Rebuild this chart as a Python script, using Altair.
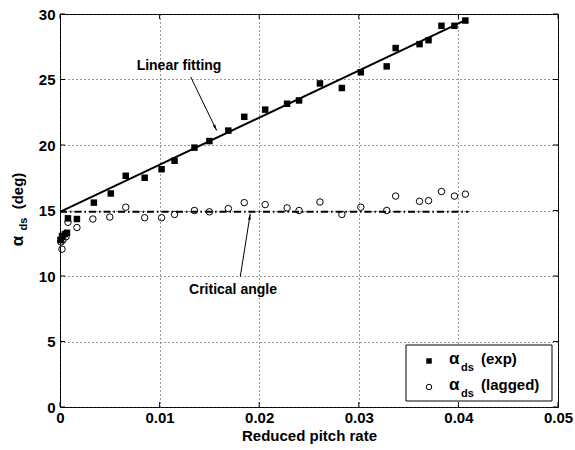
import altair as alt
import pandas as pd

# ---- data ----
exp_x = [0.00005, 0.0002, 0.0005, 0.0007, 0.0008, 0.0017, 0.0034, 0.0051, 0.0066, 0.0085,
         0.0102, 0.0115, 0.0135, 0.0150, 0.0169, 0.0185, 0.0206, 0.0228, 0.0240, 0.0261,
         0.0283, 0.0302, 0.0328, 0.0337, 0.0361, 0.0370, 0.0383, 0.0396, 0.0407]
exp_y = [12.75, 13.05, 13.2, 13.3, 14.4, 14.35, 15.6, 16.3, 17.65, 17.5,
         18.15, 18.8, 19.8, 20.3, 21.1, 22.15, 22.7, 23.15, 23.4, 24.7,
         24.35, 25.55, 26.0, 27.4, 27.7, 28.0, 29.1, 29.1, 29.5]
lag_x = [0.0001, 0.0002, 0.0003, 0.0006, 0.0008, 0.0017, 0.0033, 0.0050, 0.0066, 0.0085,
         0.0102, 0.0115, 0.0135, 0.0150, 0.0169, 0.0185, 0.0206, 0.0228, 0.0240, 0.0261,
         0.0283, 0.0302, 0.0328, 0.0337, 0.0361, 0.0370, 0.0383, 0.0396, 0.0407]
lag_y = [12.6, 12.05, 12.75, 13.0, 14.1, 13.7, 14.35, 14.5, 15.25, 14.45,
         14.45, 14.7, 15.0, 14.9, 15.15, 15.6, 15.45, 15.2, 15.0, 15.65,
         14.7, 15.25, 15.0, 16.1, 15.7, 15.75, 16.45, 16.1, 16.25]
fit_x = [0.0, 0.0405]
fit_y = [14.9, 29.45]
crit_x = [0.0, 0.0410]
crit_y = [14.9, 14.9]
x_ticks = [0, 0.01, 0.02, 0.03, 0.04, 0.05]
y_ticks = [0, 5, 10, 15, 20, 25, 30]

FONT = "Liberation Sans"
W, H = 498, 393

exp_df = pd.DataFrame({"x": exp_x, "y": exp_y})
lag_df = pd.DataFrame({"x": lag_x, "y": lag_y})
fit_df = pd.DataFrame({"x": fit_x, "y": fit_y})
crit_df = pd.DataFrame({"x": crit_x, "y": crit_y})
xt_df = pd.DataFrame({"v": x_ticks})
yt_df = pd.DataFrame({"v": y_ticks})
one = pd.DataFrame({"a": [0]})

xscale = alt.Scale(domain=[0, 0.05], nice=False)
yscale = alt.Scale(domain=[0, 30], nice=False)

xaxis = alt.Axis(values=x_ticks, labelExpr="datum.value == 0 ? '0' : format(datum.value, '.2f')",
                 title="Reduced pitch rate", grid=True, gridDash=[1, 3], gridColor="#333",
                 gridOpacity=1, ticks=False, domain=False, labelFont=FONT, labelFontSize=15,
                 labelFontWeight="bold", labelColor="black", labelPadding=3,
                 titleFont=FONT, titleFontSize=15, titleFontWeight="bold", titleColor="black",
                 titlePadding=3, labelFlush=False)
yaxis = alt.Axis(values=y_ticks, title=None, grid=True, gridDash=[1, 3], gridColor="#333",
                 gridOpacity=1, ticks=False, domain=False, labelFont=FONT, labelFontSize=15,
                 labelFontWeight="bold", labelColor="black", labelPadding=5, labelFlush=False)

base_pts = alt.Chart(exp_df).mark_square(size=42, color="black", opacity=1).encode(
    x=alt.X("x:Q", scale=xscale, axis=xaxis),
    y=alt.Y("y:Q", scale=yscale, axis=yaxis),
)
lag_pts = alt.Chart(lag_df).mark_point(shape="circle", size=42, color="black", strokeWidth=1,
                                        filled=False, opacity=1).encode(x="x:Q", y="y:Q")
fit_line = alt.Chart(fit_df).mark_line(color="black", strokeWidth=2).encode(x="x:Q", y="y:Q")
crit_line = alt.Chart(crit_df).mark_line(color="black", strokeWidth=2,
                                         strokeDash=[7, 3, 1.5, 3]).encode(x="x:Q", y="y:Q")

# inward ticks
xt_b = alt.Chart(xt_df).mark_rule(color="black").encode(x="v:Q", y=alt.value(H), y2=alt.value(H - 5))
xt_t = alt.Chart(xt_df).mark_rule(color="black").encode(x="v:Q", y=alt.value(0), y2=alt.value(5))
yt_l = alt.Chart(yt_df).mark_rule(color="black").encode(y="v:Q", x=alt.value(0), x2=alt.value(5))
yt_r = alt.Chart(yt_df).mark_rule(color="black").encode(y="v:Q", x=alt.value(W), x2=alt.value(W - 5))

# annotations
ann_df = pd.DataFrame({
    "x": [0.01195, 0.01737], "y": [26.0, 8.93], "t": ["Linear fitting", "Critical angle"]})
ann_text = alt.Chart(ann_df).mark_text(font=FONT, fontSize=14, fontWeight="bold", color="black",
                                       align="center", baseline="middle").encode(
    x="x:Q", y="y:Q", text="t:N")
arr_df = pd.DataFrame({
    "x": [0.01312, 0.0181], "y": [25.2, 9.95], "x2": [0.01573, 0.0191], "y2": [21.1, 14.75],
    "ang": [154, 9]})
arr_line = alt.Chart(arr_df).mark_rule(color="black", strokeWidth=1).encode(
    x="x:Q", y="y:Q", x2="x2:Q", y2="y2:Q")
arr_head = alt.Chart(arr_df).mark_point(shape="M0,0L0.45,2L-0.45,2Z", size=36, filled=True,
                                        color="black", opacity=1).encode(
    x="x2:Q", y="y2:Q", angle=alt.Angle("ang:Q", scale=None))

# y-axis title (alpha with subscript ds)
ytitle = [
    alt.Chart(one).mark_text(text="α", font=FONT, fontSize=17, fontWeight="bold", angle=270,
                             align="center", baseline="middle", color="black").encode(
        x=alt.value(-42), y=alt.value(227)),
    alt.Chart(one).mark_text(text="ds", font=FONT, fontSize=11, fontWeight="bold", angle=270,
                             align="center", baseline="middle", color="black").encode(
        x=alt.value(-36), y=alt.value(210)),
    alt.Chart(one).mark_text(text="(deg)", font=FONT, fontSize=15, fontWeight="bold", angle=270,
                             align="center", baseline="middle", color="black").encode(
        x=alt.value(-42), y=alt.value(177)),
]

# legend
lx0, lx1, ly0, ly1 = 346, 492, 331, 387
leg = [
    alt.Chart(one).mark_rect(fill="white", stroke="black", strokeWidth=1).encode(
        x=alt.value(lx0), x2=alt.value(lx1), y=alt.value(ly0), y2=alt.value(ly1)),
    alt.Chart(one).mark_square(size=30, color="black", opacity=1).encode(
        x=alt.value(369), y=alt.value(347)),
    alt.Chart(one).mark_point(shape="circle", size=30, color="black", filled=False,
                              opacity=1, strokeWidth=1).encode(x=alt.value(369), y=alt.value(373)),
]
for row, label in enumerate(["(exp)", "(lagged)"]):
    yy = 345 + row * 26
    leg += [
        alt.Chart(one).mark_text(text="α", font=FONT, fontSize=17, fontWeight="bold", align="left",
                                 baseline="middle", color="black").encode(
            x=alt.value(389), y=alt.value(yy)),
        alt.Chart(one).mark_text(text="ds", font=FONT, fontSize=11, fontWeight="bold", align="left",
                                 baseline="middle", color="black").encode(
            x=alt.value(401), y=alt.value(yy + 9)),
        alt.Chart(one).mark_text(text=label, font=FONT, fontSize=15, fontWeight="bold", align="left",
                                 baseline="middle", color="black").encode(
            x=alt.value(421), y=alt.value(yy)),
    ]

chart = alt.layer(
    base_pts, xt_b, xt_t, yt_l, yt_r, fit_line, crit_line, lag_pts,
    arr_line, arr_head, ann_text, *ytitle, *leg
).properties(
    width=W, height=H,
    autosize=alt.AutoSizeParams(type="none"),
    padding={"left": 60, "top": 14, "right": 17, "bottom": 43},
    background="white",
).configure_view(stroke="black", strokeWidth=1)

chart.save("out.html", embed_options={"renderer": "svg", "actions": False})
